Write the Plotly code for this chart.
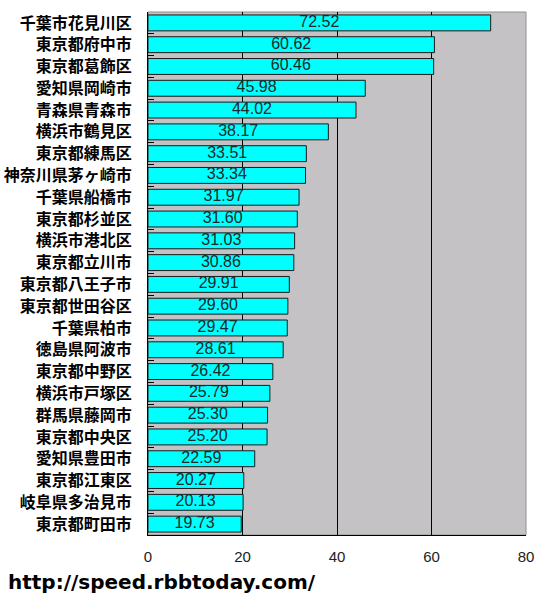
import plotly.graph_objects as go

cities = ["千葉市花見川区", "東京都府中市", "東京都葛飾区", "愛知県岡崎市", "青森県青森市",
          "横浜市鶴見区", "東京都練馬区", "神奈川県茅ヶ崎市", "千葉県船橋市", "東京都杉並区",
          "横浜市港北区", "東京都立川市", "東京都八王子市", "東京都世田谷区", "千葉県柏市",
          "徳島県阿波市", "東京都中野区", "横浜市戸塚区", "群馬県藤岡市", "東京都中央区",
          "愛知県豊田市", "東京都江東区", "岐阜県多治見市", "東京都町田市"]
speeds = [72.52, 60.62, 60.46, 45.98, 44.02, 38.17, 33.51, 33.34, 31.97, 31.60,
          31.03, 30.86, 29.91, 29.60, 29.47, 28.61, 26.42, 25.79, 25.30, 25.20,
          22.59, 20.27, 20.13, 19.73]
x_ticks = [0, 20, 40, 60, 80]

fig = go.Figure()
fig.add_trace(go.Bar(
    x=speeds, y=cities, orientation="h",
    marker=dict(color="#00FFFF", line=dict(color="#1a1a1a", width=1)),
    hoverinfo="skip",
))
fig.add_trace(go.Scatter(
    x=[v / 2 for v in speeds], y=cities, mode="text",
    text=[f"{v:.2f}" for v in speeds], textposition="middle center",
    textfont=dict(family="Liberation Sans, Arial", size=16, color="#1a2a2a"),
    cliponaxis=False,
))
fig.update_layout(
    width=537, height=600, margin=dict(l=148, r=11, t=12, b=65, autoexpand=False),
    paper_bgcolor="white", plot_bgcolor="#C4C2C4", bargap=0.27, showlegend=False,
)
fig.update_xaxes(range=[0, 80], tickvals=x_ticks, showgrid=True, gridcolor="black", gridwidth=1,
                 zeroline=False, showline=True, linecolor="black", mirror=False, automargin=False,
                 ticks="", tickfont=dict(family="Liberation Sans, Arial", size=15, color="#222"),
                 ticklabelstandoff=8)
fig.update_yaxes(range=[len(cities) - 0.5, -0.5], showgrid=False, showline=True, linecolor="black",
                 ticks="inside", ticklen=6, tickcolor="black", tickson="boundaries", automargin=False,
                 tickfont=dict(family="Noto Sans CJK JP", size=16, color="black", weight="bold"),
                 ticklabelstandoff=12)
fig.add_shape(type="rect", xref="paper", yref="paper", x0=0, x1=1, y0=0, y1=1,
              line=dict(color="#909090", width=1), layer="below")
fig.add_annotation(text="<b>http://speed.rbbtoday.com/</b>", xref="paper", yref="paper",
                   x=-142/378, y=-0.0, yshift=-47, xanchor="left", yanchor="middle", showarrow=False,
                   font=dict(family="DejaVu Sans", size=20, color="black"))
fig.write_html("out.html")
